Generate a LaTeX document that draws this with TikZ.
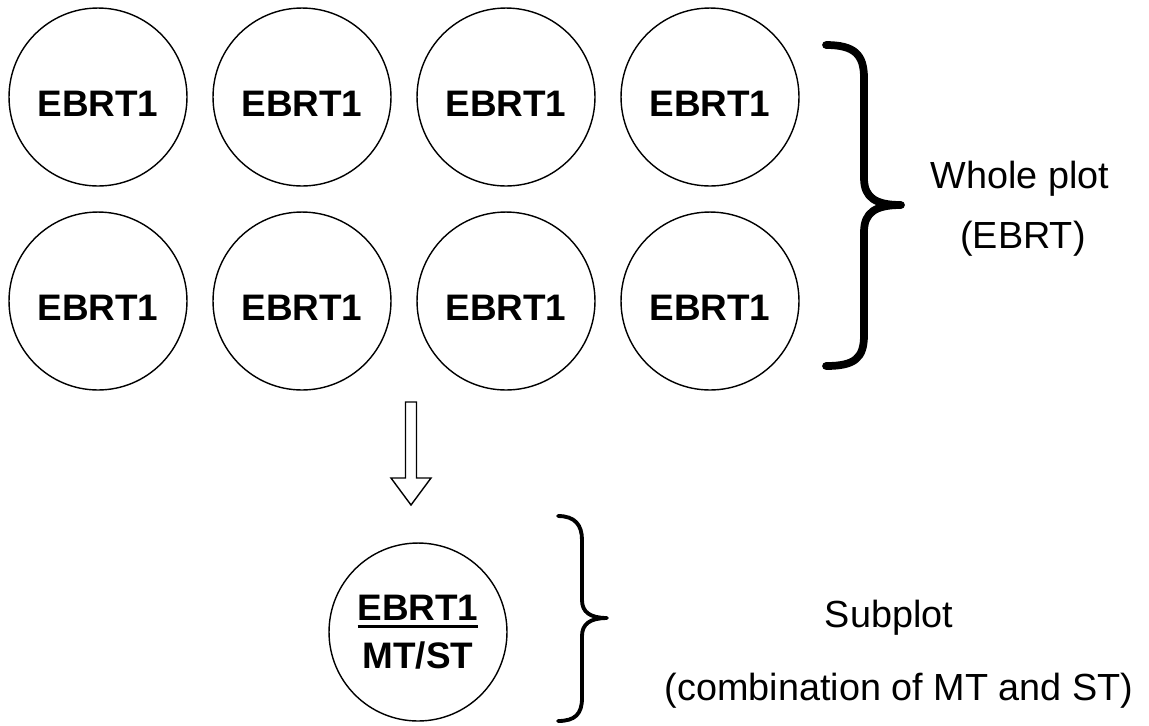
\documentclass[tikz,border=0pt]{standalone}
\usepackage{fontspec}
\setmainfont{Liberation Sans}
\usetikzlibrary{positioning}

\newlength{\ulwd}
\newcommand{\thickul}[1]{\settowidth{\ulwd}{#1}\rlap{\rule[-4.2pt]{\ulwd}{1.6pt}}#1}

\begin{document}
\begin{tikzpicture}[x=0.02cm, y=-0.02cm,
        plot/.style={circle, draw, line width=0.8pt, minimum size=3.56cm, inner sep=0pt,
            font=\fontsize{21}{27}\selectfont\bfseries},
        rowplot/.style={plot, text height=22pt, text depth=0pt},
        lbl/.style={anchor=base, font=\fontsize{21.5}{27}\selectfont}]
        \useasboundingbox (0,0) rectangle (1149,725);

        % whole plot: two rows of EBRT1
        \node[rowplot] (a) at (98, 97) {EBRT1};
        \node[rowplot] (b) at (302, 97) {EBRT1};
        \node[rowplot] (c) at (506, 97) {EBRT1};
        \node[rowplot] (d) at (710, 97) {EBRT1};
        \node[rowplot] (e) at (98, 301) {EBRT1};
        \node[rowplot] (f) at (302, 301) {EBRT1};
        \node[rowplot] (g) at (506, 301) {EBRT1};
        \node[rowplot] (h) at (710, 301) {EBRT1};

        \draw[line width=4.4pt, line cap=round, line join=round]
            (826,45) .. controls (855,45) and (864,55) .. (864,78)
            -- (864,178) .. controls (864,198) and (876,205) .. (901,205)
            .. controls (876,205) and (864,212) .. (864,232)
            -- (864,335) .. controls (864,358) and (855,366) .. (826,366);
        \node[lbl] (whole) at (1020,188) {Whole plot};
        \node[lbl] (wholeebrt) at (1023,248) {(EBRT)};

        % block arrow down to the subplot
        \coordinate (arrtop) at (411,402);
        \draw[line width=0.8pt] (arrtop) ++(-5.5,0) -- ++(11,0) -- ++(0,76) -- ++(14.5,0)
            -- (411,505) -- (391,478) -- (405.5,478) -- cycle;

        % subplot
        \node[plot, align=center] (sub) at (418,632) {\thickul{EBRT1}\\MT/ST};

        \draw[line width=2.2pt, line cap=round, line join=round]
            (558,516) .. controls (575,516) and (582,525) .. (582,540)
            -- (582,600) .. controls (582,612) and (590,618) .. (607,618)
            .. controls (590,618) and (582,624) .. (582,636)
            -- (582,698) .. controls (582,714) and (575,721) .. (558,721);
        \node[lbl] (subl) at (889,627) {Subplot};
        \node[lbl] (subcomb) at (899,700) {(combination of MT and ST)};
\end{tikzpicture}
\end{document}
